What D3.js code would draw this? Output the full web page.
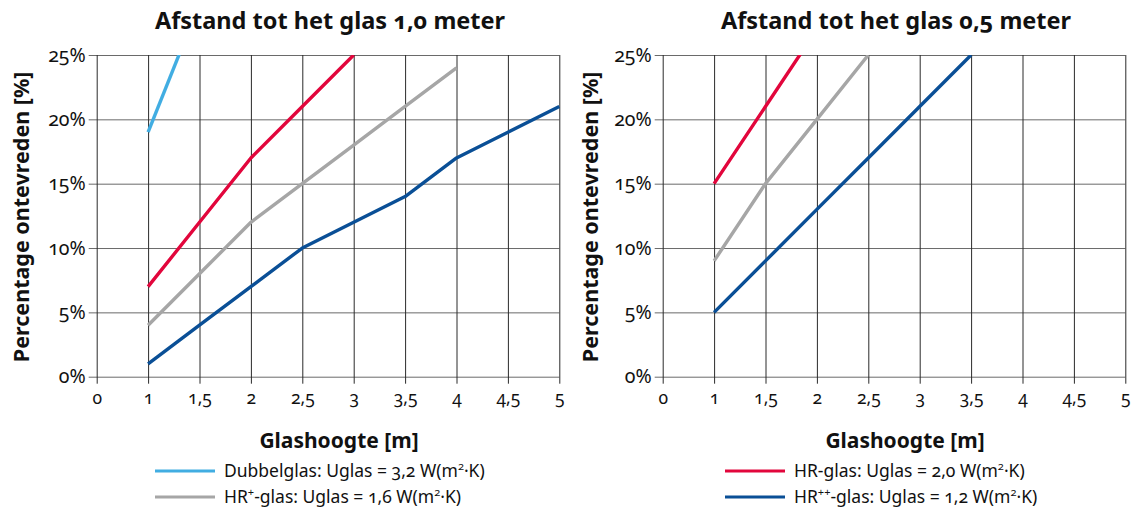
<!DOCTYPE html>
<html><head><meta charset="utf-8">
<script src="https://cdn.jsdelivr.net/npm/d3@7"></script>
<style>
html,body{margin:0;padding:0;background:#fff;}
svg{display:block;font-family:"Noto Sans",sans-serif;}
.onum{font-feature-settings:"onum" 1;font-variant-numeric:oldstyle-nums;}
</style></head>
<body><svg id="c" width="1134" height="508"></svg>
<script>
const categories = ["0","1","1,5","2","2,5","3","3,5","4","4,5","5"];
const yTicks = [0,5,10,15,20,25];
// Afstand 1,0 meter
const dubbel10 = [null,19,29,null,null,null,null,null,null,null];
const hr10     = [null,7,12,17,21,25,null,null,null,null];
const hrp10    = [null,4,8,12,15,18,21,24,null,null];
const hrpp10   = [null,1,4,7,10,12,14,17,19,21];
// Afstand 0,5 meter
const hr05     = [null,15,21,27,null,null,null,null,null,null];
const hrp05    = [null,9,15,20,25,null,null,null,null,null];
const hrpp05   = [null,5,9,13,17,21,25,null,null,null];

const titles = ["Afstand tot het glas 1,0 meter","Afstand tot het glas 0,5 meter"];
const yTitle = "Percentage ontevreden [%]";
const xTitle = "Glashoogte [m]";
const colors = {dubbel:"#41ade2", hr:"#e2063c", hrp:"#a6a6a6", hrpp:"#0a4f96"};

const svg = d3.select("#c");

function panel(ox, title, series, idx, yOff){
  const left = ox, right = ox + 462.6, top = 55, bottom = 376.7;
  const x = d3.scalePoint().domain(categories).range([left,right]).padding(0);
  const y = d3.scaleLinear().domain([0,25]).range([bottom,top]);
  const g = svg.append("g");
  const cid = "clip"+idx;
  g.append("clipPath").attr("id",cid).append("rect")
    .attr("x",left-3).attr("y",top).attr("width",right-left+6).attr("height",bottom-top+2);
  g.append("g").attr("transform",`translate(${left},0)`)
    .call(d3.axisLeft(y).tickValues(yTicks).tickSize(-(right-left)).tickSizeOuter(0).tickFormat(d=>d+"%"))
    .call(a=>{a.select(".domain").remove();
      a.selectAll(".tick line").attr("stroke","#6a6a6a").attr("x1",-8);
      a.selectAll(".tick text").attr("x",-11).attr("class","onum")
        .attr("font-size",19.5).attr("fill","#111").attr("font-family","Noto Sans");});
  g.append("g").attr("transform",`translate(0,${bottom})`)
    .call(d3.axisBottom(x).tickSize(-(bottom-top)).tickSizeOuter(0))
    .call(a=>{a.select(".domain").remove();
      a.selectAll(".tick line").attr("stroke","#2a2a2a").attr("y1",7);
      a.selectAll(".tick text").attr("y",22).attr("dy","0.32em").attr("class","onum")
        .attr("font-size",17.5).attr("fill","#111").attr("font-family","Noto Sans");});
  const line = d3.line().defined(d=>d.v!=null).x(d=>x(d.c)).y(d=>y(d.v));
  series.forEach(s=>{
    g.append("path").attr("clip-path",`url(#${cid})`)
      .datum(categories.map((c,i)=>({c, v:s.values[i]})))
      .attr("d",line).attr("fill","none").attr("stroke",s.color)
      .attr("stroke-width",3.4).attr("stroke-linejoin","round");
  });
  g.append("text").attr("x",(left+right)/2+2).attr("y",29).attr("text-anchor","middle")
    .attr("class","onum").attr("font-weight","bold").attr("font-size",23.5).attr("fill","#111").text(title);
  g.append("text").attr("transform",`translate(${left-yOff},${(top+bottom)/2+1}) rotate(-90)`)
    .attr("text-anchor","middle").attr("dy","0.35em").attr("font-weight","bold").attr("font-size",21.5)
    .attr("fill","#111").text(yTitle);
  g.append("text").attr("x",(left+right)/2+11).attr("y",448).attr("text-anchor","middle")
    .attr("font-weight","bold").attr("font-size",21).attr("fill","#111").text(xTitle);
}

panel(96.7, titles[0], [
  {values:dubbel10,color:colors.dubbel},
  {values:hr10,color:colors.hr},
  {values:hrp10,color:colors.hrp},
  {values:hrpp10,color:colors.hrpp}], 0, 75);
panel(662.7, titles[1], [
  {values:hr05,color:colors.hr},
  {values:hrp05,color:colors.hrp},
  {values:hrpp05,color:colors.hrpp}], 1, 72);

const legendItems = [
  {x:155, y:471, color:colors.dubbel, parts:[["Dubbelglas: Uglas = 3,2 W(m",false],["2",true],["·K)",false]]},
  {x:155, y:497, color:colors.hrp, parts:[["HR",false],["+",true],["-glas: Uglas = 1,6 W(m",false],["2",true],["·K)",false]]},
  {x:725, y:471, color:colors.hr, parts:[["HR-glas: Uglas = 2,0 W(m",false],["2",true],["·K)",false]]},
  {x:725, y:497, color:colors.hrpp, parts:[["HR",false],["++",true],["-glas: Uglas = 1,2 W(m",false],["2",true],["·K)",false]]}
];
const lg = svg.append("g");
legendItems.forEach(it=>{
  lg.append("line").attr("x1",it.x).attr("x2",it.x+60).attr("y1",it.y).attr("y2",it.y)
    .attr("stroke",it.color).attr("stroke-width",3);
  const t = lg.append("text").attr("x",it.x+69).attr("y",it.y+5.5).attr("font-size",17.5)
    .attr("class","onum").attr("fill","#111");
  it.parts.forEach(p=>{
    const ts = t.append("tspan").text(p[0]);
    if(p[1]) ts.attr("font-size",11).attr("baseline-shift","super");
  });
});
</script></body></html>
